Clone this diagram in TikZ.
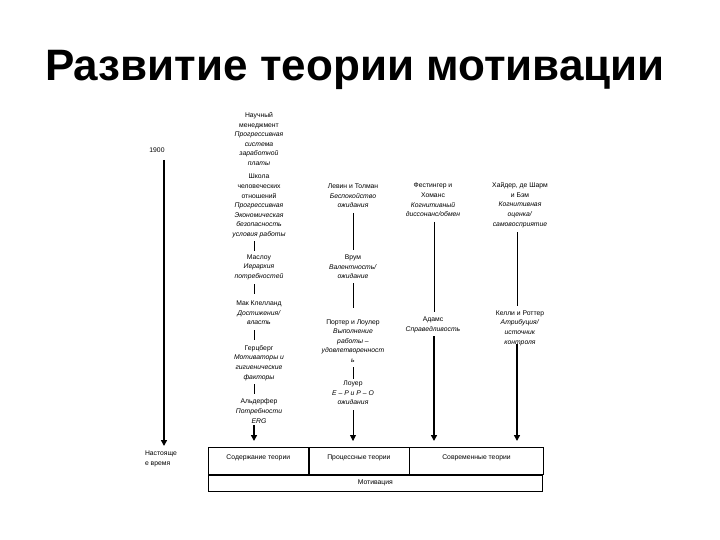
\documentclass[tikz,border=0pt]{standalone}
\usepackage{fontspec}
\setmainfont{Liberation Sans}
\usetikzlibrary{arrows.meta}
\begin{document}
\begin{tikzpicture}[x=1pt,y=-1pt,
  txt/.style={align=center,inner sep=1pt,font=\fontsize{6.8}{9.6}\selectfont},
  thin line/.style={line width=0.6pt},
  thin arrow/.style={line width=0.8pt,-{Triangle[width=6pt,length=6pt]}},
  thick arrow/.style={line width=1.6pt,-{Triangle[width=6pt,length=6pt]}},
  cell/.style={draw,line width=0.6pt,minimum width=100pt,minimum height=27pt,inner sep=0pt,text height=9pt,text depth=12pt,font=\fontsize{6.8}{8}\selectfont}]
\useasboundingbox (0,0) rectangle (720,540);
\node[font=\fontsize{44}{46}\selectfont\bfseries] (title) at (355,70) {Развитие теории мотивации};
% timeline
\node[txt] (y1900) at (157,150) {1900};
\node[txt,align=left] (now) at (161,459) {Настояще\\е время};
\coordinate (t1) at (164,160);
\coordinate (t2) at (164,446);
\draw[thick arrow] (t1) -- (t2);
% column 1
\node[txt] (n1) at (259,139) {Научный\\менеджмент\\\textit{Прогрессивная}\\\textit{система}\\\textit{заработной}\\\textit{платы}};
\node[txt] (n2) at (259,206) {Школа\\человеческих\\отношений\\\textit{Прогрессивная}\\\textit{Экономическая}\\\textit{безопасность}\\\textit{условия работы}};
\node[txt] (n3) at (259,267) {Маслоу\\\textit{Иерархия}\\\textit{потребностей}};
\node[txt] (n4) at (259,313) {Мак Клелланд\\\textit{Достижения/}\\\textit{власть}};
\node[txt] (n5) at (259,363) {Герцберг\\\textit{Мотиваторы и}\\\textit{гигиенические}\\\textit{факторы}};
\node[txt] (n6) at (259,411) {Альдерфер\\\textit{Потребности}\\\textit{ERG}};
\coordinate (a1) at (254,441);
\draw[thin line] (254,241) -- (254,251);
\draw[thin line] (254,284) -- (254,294);
\draw[thin line] (254,330) -- (254,340);
\draw[thin line] (254,384) -- (254,394);
\draw[thick arrow] (254,425) -- (a1);
% column 2
\node[txt] (m1) at (353,196) {Левин и Толман\\\textit{Беспокойство}\\\textit{ожидания}};
\node[txt] (m2) at (353,267) {Врум\\\textit{Валентность/}\\\textit{ожидание}};
\node[txt] (m3) at (353,341) {Портер и Лоулер\\\textit{Выполнение}\\\textit{работы –}\\\textit{удовлетворенност}\\\textit{ь}};
\node[txt] (m4) at (353,393) {Лоуер\\\textit{E – P и P – O}\\\textit{ожидания}};
\coordinate (a2) at (353,441);
\draw[thin line] (353,213) -- (353,250);
\draw[thin line] (353,283) -- (353,308);
\draw[thin line] (353,367) -- (353,379);
\draw[thin arrow] (353,410) -- (a2);
% column 3
\node[txt] (f1) at (433,200) {Фестингер и\\Хоманс\\\textit{Когнитивный}\\\textit{диссонанс/обмен}};
\node[txt] (f2) at (433,325) {Адамс\\\textit{Справедливость}};
\coordinate (a3) at (434,441);
\draw[thin line] (434,222) -- (434,312);
\draw[thick arrow] (434,336) -- (a3);
% column 4
\node[txt] (h1) at (520,205) {Хайдер, де Шарм\\и Бэм\\\textit{Когнитивная}\\\textit{оценка/}\\\textit{самовосприятие}};
\node[txt] (h2) at (520,328) {Келли и Роттер\\\textit{Атрибуция/}\\\textit{источник}\\\textit{контроля}};
\coordinate (a4) at (517,441);
\draw[thin line] (517,232) -- (517,306);
\draw[thick arrow] (517,344) -- (a4);
% table
\node[cell,anchor=north west] (c1) at (208,447) {Содержание теории};
\node[cell,anchor=north west] (c2) at (c1.north east) {Процессные теории};
\node[cell,anchor=north west,minimum width=134pt] (c3) at (c2.north east) {Современные теории};
\node[cell,anchor=north west,minimum width=334pt,minimum height=16pt,text height=5pt,text depth=2pt] (c4) at (c1.south west) {Мотивация};
\end{tikzpicture}
\end{document}
